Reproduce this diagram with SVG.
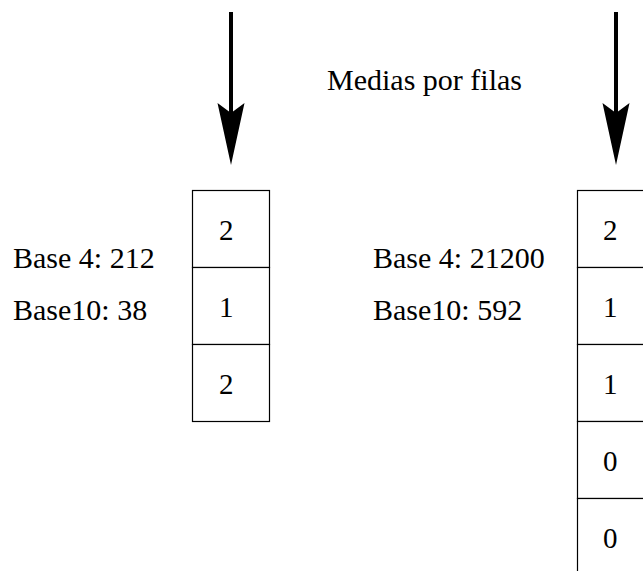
<svg xmlns="http://www.w3.org/2000/svg" width="643" height="571" viewBox="0 0 643 571">
<style>
  .t { font-family: "Liberation Serif", "Times New Roman", serif; font-size: 30px; fill: #000; }
  .d { font-family: "Liberation Serif", "Times New Roman", serif; font-size: 29px; fill: #000; }
  .cell { fill: #fff; stroke: #000; stroke-width: 1.2; }
  .shaft { stroke: #000; stroke-width: 4; fill: none; }
  .head { fill: #000; stroke: none; }
</style>
<rect width="643" height="571" fill="#fff"/>
<g id="connectors">
  <g id="arrow-left">
    <line class="shaft" x1="231" y1="12" x2="231" y2="130"/>
    <polygon class="head" points="217.5,103 231,113 244.5,103 231,165"/>
  </g>
  <g id="arrow-right">
    <line class="shaft" x1="616" y1="12" x2="616" y2="130"/>
    <polygon class="head" points="602.5,103 616,113 629.5,103 616,165"/>
  </g>
</g>
<g id="title">
  <text class="t" x="327" y="90">Medias por filas</text>
</g>
<g id="labels-left">
  <text class="t" x="13" y="268">Base 4: 212</text>
  <text class="t" x="13" y="320">Base10: 38</text>
</g>
<g id="labels-right">
  <text class="t" x="373" y="268">Base 4: 21200</text>
  <text class="t" x="373" y="320">Base10: 592</text>
</g>
<g id="stack-left">
  <rect class="cell" x="192.5" y="190.5" width="77" height="77"/>
  <rect class="cell" x="192.5" y="267.5" width="77" height="77"/>
  <rect class="cell" x="192.5" y="344.5" width="77" height="77"/>
  <text class="d" x="219" y="240">2</text>
  <text class="d" x="219" y="317">1</text>
  <text class="d" x="219" y="394">2</text>
</g>
<g id="stack-right">
  <rect class="cell" x="577.5" y="190.5" width="77" height="77"/>
  <rect class="cell" x="577.5" y="267.5" width="77" height="77"/>
  <rect class="cell" x="577.5" y="344.5" width="77" height="77"/>
  <rect class="cell" x="577.5" y="421.5" width="77" height="77"/>
  <rect class="cell" x="577.5" y="498.5" width="77" height="77"/>
  <text class="d" x="603" y="240">2</text>
  <text class="d" x="603" y="317">1</text>
  <text class="d" x="603" y="394">1</text>
  <text class="d" x="603" y="471">0</text>
  <text class="d" x="603" y="548">0</text>
</g>
</svg>
